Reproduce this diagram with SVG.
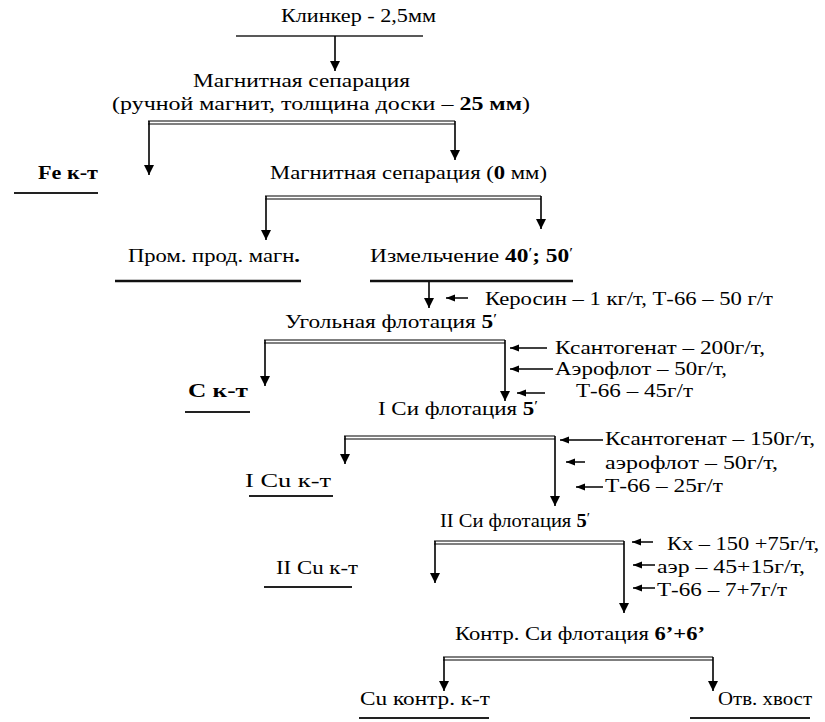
<svg xmlns="http://www.w3.org/2000/svg" width="825" height="722" viewBox="0 0 825 722">
<defs>
<marker id="ah" markerUnits="userSpaceOnUse" markerWidth="10" markerHeight="11" refX="10" refY="5" orient="auto"><path d="M0,0 L10,5 L0,10 z" fill="#000"/></marker>
<marker id="ahs" markerUnits="userSpaceOnUse" markerWidth="9" markerHeight="8" refX="9" refY="3.5" orient="auto"><path d="M0,0 L9,3.5 L0,7 z" fill="#000"/></marker>
<style>
text{font-family:"Liberation Serif","DejaVu Serif",serif;font-size:19px;fill:#000}
.b{font-weight:bold}
.pr{font-size:14px;font-weight:normal}
.ul{stroke:#222;stroke-width:2;fill:none}
.ulb{stroke:#111;stroke-width:2.6;fill:none}
.dl{stroke:#000;stroke-width:1.1;fill:none}
.v{stroke:#000;stroke-width:1.6;fill:none;marker-end:url(#ah)}
.r{stroke:#000;stroke-width:1.5;fill:none;marker-end:url(#ahs)}
</style>
</defs>
<rect width="825" height="722" fill="#fff"/>

<g id="connectors">
<line class="ul" x1="236" y1="36" x2="423" y2="36" style="stroke-width:1.5"/>
<line class="v" x1="335" y1="36" x2="335" y2="71"/>
<path class="dl" d="M148,121 H455 M148,124 H455"/>
<line class="v" x1="149" y1="121" x2="149" y2="175"/>
<line class="v" x1="455" y1="121" x2="455" y2="160"/>
<path class="dl" d="M265,196 H541 M265,199 H541"/>
<line class="v" x1="266" y1="196" x2="266" y2="240"/>
<line class="v" x1="541" y1="196" x2="541" y2="229"/>
<line class="v" x1="429" y1="281" x2="429" y2="308"/>
<line class="r" x1="468" y1="298" x2="446" y2="298"/>
<path class="dl" d="M264,340 H505 M264,343 H505"/>
<line class="v" x1="265" y1="340" x2="265" y2="386"/>
<line class="v" x1="505" y1="340" x2="505" y2="401"/>
<line class="r" x1="547" y1="348" x2="510" y2="348"/>
<line class="r" x1="553" y1="369" x2="510" y2="369"/>
<line class="r" x1="545" y1="393" x2="517" y2="393"/>
<path class="dl" d="M344,436 H555 M344,439 H555"/>
<line class="v" x1="345" y1="436" x2="345" y2="464"/>
<line class="v" x1="555" y1="436" x2="555" y2="506"/>
<line class="r" x1="603" y1="440" x2="560" y2="440"/>
<line class="r" x1="585" y1="462" x2="566" y2="462"/>
<line class="r" x1="603" y1="487" x2="576" y2="487"/>
<path class="dl" d="M434,541 H624 M434,544 H624"/>
<line class="v" x1="435" y1="541" x2="435" y2="583"/>
<line class="v" x1="624" y1="541" x2="624" y2="613"/>
<line class="r" x1="653" y1="542" x2="632" y2="542"/>
<line class="r" x1="655" y1="565" x2="633" y2="565"/>
<line class="r" x1="655" y1="588" x2="633" y2="588"/>
<path class="dl" d="M443,657 H713 M443,660 H713"/>
<line class="v" x1="444" y1="657" x2="444" y2="691"/>
<line class="v" x1="713" y1="657" x2="713" y2="691"/>
</g>

<g id="n-clinker"><text x="281" y="22" textLength="155" lengthAdjust="spacingAndGlyphs">Клинкер  - 2,5мм</text></g>
<g id="n-magsep1">
<text x="193" y="87" textLength="217" lengthAdjust="spacingAndGlyphs">Магнитная сепарация</text>
<text x="112" y="110" textLength="418" lengthAdjust="spacingAndGlyphs">(ручной магнит, толщина доски – <tspan class="b">25 мм</tspan>)</text>
</g>
<g id="n-fe"><text class="b" x="38" y="179" textLength="60" lengthAdjust="spacingAndGlyphs">Fe к-т</text><line class="ul" x1="14" y1="193" x2="98" y2="193"/></g>
<g id="n-magsep2"><text x="270" y="179" textLength="277" lengthAdjust="spacingAndGlyphs">Магнитная сепарация (<tspan class="b">0</tspan> мм)</text></g>
<g id="n-prom"><text x="128" y="262" textLength="172" lengthAdjust="spacingAndGlyphs">Пром. прод. магн<tspan class="b">.</tspan></text><line class="ulb" x1="115" y1="281" x2="301" y2="281"/></g>
<g id="n-grind"><text x="370" y="262" textLength="203" lengthAdjust="spacingAndGlyphs">Измельчение   <tspan class="b">40</tspan><tspan class="pr" dy="-4">′</tspan><tspan class="b" dy="4">; 50</tspan><tspan class="pr" dy="-4">′</tspan></text><line class="ulb" x1="370" y1="281" x2="573" y2="281"/></g>
<g id="r-kero"><text x="485" y="305" textLength="288" lengthAdjust="spacingAndGlyphs">Керосин – 1 кг/т, Т-66 – 50 г/т</text></g>
<g id="n-coal"><text x="285" y="328" textLength="212" lengthAdjust="spacingAndGlyphs">Угольная флотация <tspan class="b">5</tspan><tspan class="pr" dy="-4">′</tspan></text></g>
<g id="r-coal">
<text x="555" y="354" textLength="210" lengthAdjust="spacingAndGlyphs">Ксантогенат – 200г/т,</text>
<text x="555" y="375" textLength="172" lengthAdjust="spacingAndGlyphs">Аэрофлот – 50г/т,</text>
<text x="576" y="397" textLength="117" lengthAdjust="spacingAndGlyphs">Т-66 – 45г/т</text>
</g>
<g id="n-ck"><text class="b" x="188" y="397" textLength="60" lengthAdjust="spacingAndGlyphs">С к-т</text><line class="ul" x1="185" y1="412" x2="250" y2="412"/></g>
<g id="n-cu1"><text x="378" y="415" textLength="160" lengthAdjust="spacingAndGlyphs">I Си флотация <tspan class="b">5</tspan><tspan class="pr" dy="-4">′</tspan></text></g>
<g id="r-cu1">
<text x="605" y="445" textLength="210" lengthAdjust="spacingAndGlyphs">Ксантогенат – 150г/т,</text>
<text x="605" y="469" textLength="173" lengthAdjust="spacingAndGlyphs">аэрофлот – 50г/т,</text>
<text x="605" y="492" textLength="118" lengthAdjust="spacingAndGlyphs">Т-66 – 25г/т</text>
</g>
<g id="n-cuk1"><text x="245" y="487" textLength="86" lengthAdjust="spacingAndGlyphs">I  Cu к-т</text><line class="ul" x1="249" y1="496" x2="333" y2="496"/></g>
<g id="n-cu2"><text x="440" y="527" textLength="150" lengthAdjust="spacingAndGlyphs">II Си флотация <tspan class="b">5</tspan><tspan class="pr" dy="-4">′</tspan></text></g>
<g id="r-cu2">
<text x="667" y="550" textLength="152" lengthAdjust="spacingAndGlyphs">Кх – 150 +75г/т,</text>
<text x="657" y="573" textLength="148" lengthAdjust="spacingAndGlyphs">аэр – 45+15г/т,</text>
<text x="657" y="596" textLength="130" lengthAdjust="spacingAndGlyphs">Т-66 – 7+7г/т</text>
</g>
<g id="n-cuk2"><text x="276" y="574" textLength="82" lengthAdjust="spacingAndGlyphs">II  Cu к-т</text><line class="ul" x1="264" y1="587" x2="352" y2="587"/></g>
<g id="n-control"><text x="455" y="640" textLength="250" lengthAdjust="spacingAndGlyphs">Контр. Си флотация <tspan class="b">6’+6’</tspan></text></g>
<g id="n-cuk3"><text x="360" y="705" textLength="130" lengthAdjust="spacingAndGlyphs">Cu контр. к-т</text><line class="ul" x1="359" y1="718" x2="489" y2="718"/></g>
<g id="n-tail"><text x="718" y="705" textLength="94" lengthAdjust="spacingAndGlyphs">Отв. хвост</text><line class="ul" x1="690" y1="718" x2="810" y2="718"/></g>
</svg>
